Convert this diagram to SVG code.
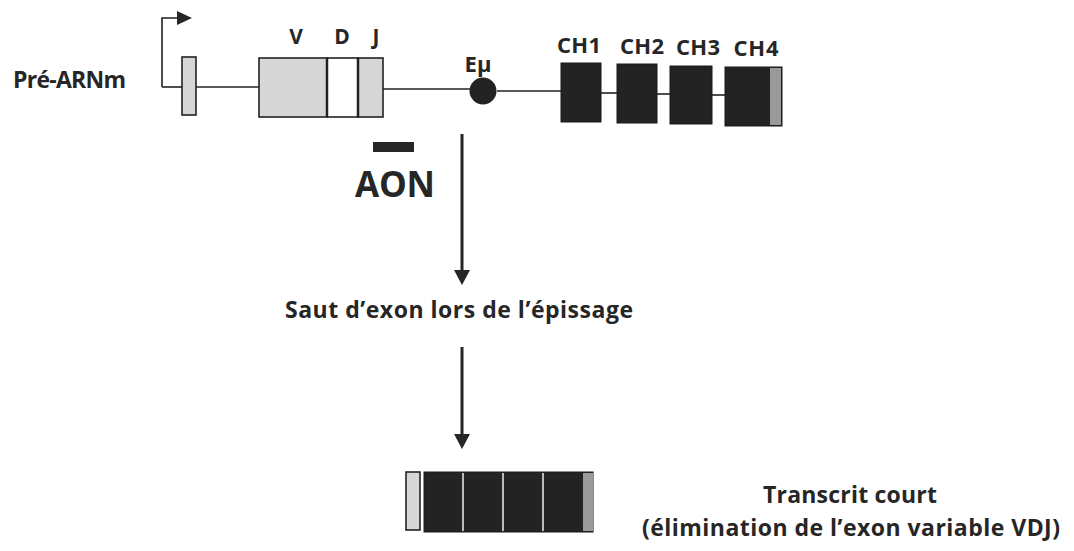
<svg xmlns="http://www.w3.org/2000/svg" width="1074" height="551" viewBox="0 0 1074 551">
<defs>
<style>
text{font-family:"Open Sans","Liberation Sans",sans-serif;font-weight:700;fill:#262626}
.lbl{font-size:21px;text-anchor:middle}
.ch{font-size:22px;text-anchor:middle}
.ln{stroke:#222;stroke-width:1.6;fill:none}
.lt{fill:#d6d6d6;stroke:#222;stroke-width:1.6}
.dk{fill:#232323;stroke:#1a1a1a;stroke-width:1}
.gr{fill:#9a9a9a}
.ar{stroke:#262626;stroke-width:3;fill:none}
</style>
</defs>
<rect width="1074" height="551" fill="#fff"/>
<text id="title" x="13" y="88" font-size="23" textLength="113">Pré-ARNm</text>
<g id="connectors">
<path class="ln" d="M162,87 V18 H178"/>
<path d="M177,11 L192,18 L177,25 Z" fill="#262626"/>
<path class="ln" d="M162,87 H182"/>
<path class="ln" d="M196,87 H259"/>
<path class="ln" d="M383,89 H470"/>
<path class="ln" d="M497,91 H561"/>
<path class="ln" d="M601,93 H617"/>
<path class="ln" d="M657,94 H670"/>
<path class="ln" d="M712,95 H725"/>
<line class="ar" x1="462" y1="134" x2="462" y2="272"/>
<path d="M454,270 L470,270 L462,285 Z" fill="#262626"/>
<line class="ar" x1="462" y1="347" x2="462" y2="436"/>
<path d="M454,434 L470,434 L462,449 Z" fill="#262626"/>
</g>
<g id="exon1"><rect class="lt" x="182" y="57" width="14" height="58"/></g>
<g id="vdj">
<rect class="lt" x="259" y="58" width="68" height="59"/>
<rect x="327" y="58" width="31" height="59" fill="#fff" stroke="#222" stroke-width="1.6"/>
<rect class="lt" x="358" y="58" width="25" height="59"/>
<line x1="327" y1="58" x2="327" y2="117" stroke="#222" stroke-width="2.5"/>
<line x1="358" y1="58" x2="358" y2="117" stroke="#222" stroke-width="2.5"/>
<text class="lbl" x="296" y="44">V</text>
<text class="lbl" x="342" y="44">D</text>
<text class="lbl" x="376" y="44">J</text>
</g>
<g id="emu">
<circle cx="483" cy="91" r="13.5" fill="#232323"/>
<text class="lbl" x="478" y="72" style="font-size:22px">Eμ</text>
</g>
<g id="ch1"><rect class="dk" x="561" y="63" width="40" height="59"/><text class="ch" x="579" y="53" textLength="44">CH1</text></g>
<g id="ch2"><rect class="dk" x="617" y="64" width="40" height="59"/><text class="ch" x="642" y="54" textLength="44">CH2</text></g>
<g id="ch3"><rect class="dk" x="670" y="66" width="42" height="58"/><text class="ch" x="698" y="55" textLength="44">CH3</text></g>
<g id="ch4"><rect class="dk" x="725" y="67" width="57" height="59"/><rect class="gr" x="770" y="68" width="11" height="57"/><text class="ch" x="756" y="56" textLength="45">CH4</text></g>
<g id="aon">
<rect x="373" y="142" width="41" height="10" fill="#262626"/>
<text x="355" y="197" font-size="35" textLength="80">AON</text>
</g>
<g id="step"><text x="285" y="318" font-size="23" textLength="348">Saut d’exon lors de l’épissage</text></g>
<g id="transcript">
<rect class="lt" x="406" y="472" width="14" height="58"/>
<rect class="dk" x="424" y="472" width="169" height="60"/>
<rect class="gr" x="583" y="473" width="10" height="58"/>
<line x1="463" y1="473" x2="463" y2="531" stroke="#f0f0f0" stroke-width="1.5"/>
<line x1="503" y1="473" x2="503" y2="531" stroke="#f0f0f0" stroke-width="1.5"/>
<line x1="543" y1="473" x2="543" y2="531" stroke="#f0f0f0" stroke-width="1.5"/>
</g>
<g id="result">
<text x="850" y="503" font-size="23" text-anchor="middle" textLength="174">Transcrit court</text>
<text x="642" y="536" font-size="23" textLength="418">(élimination de l’exon variable VDJ)</text>
</g>
</svg>
